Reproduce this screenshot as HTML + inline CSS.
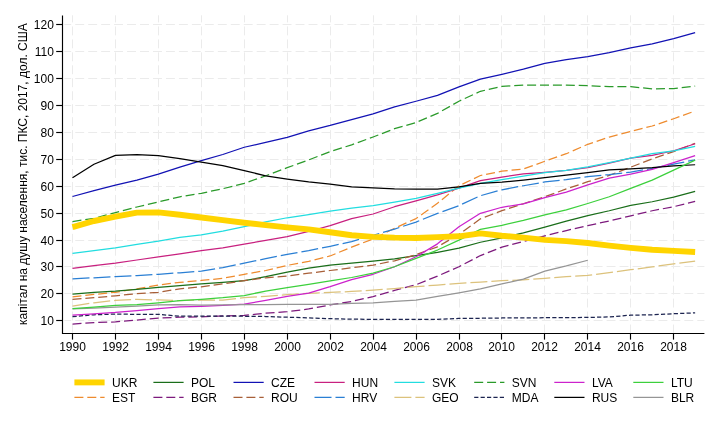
<!DOCTYPE html>
<html><head><meta charset="utf-8"><title>chart</title>
<style>html,body{margin:0;padding:0;background:#fff;width:720px;height:432px;overflow:hidden} svg{will-change:transform}</style>
</head><body>
<svg width="720" height="432" viewBox="0 0 720 432" style="display:block">
<rect width="720" height="432" fill="#fff"/>
<g stroke="#ebebeb" stroke-width="1" stroke-dasharray="8.9 4.06" stroke-dashoffset="2"><line x1="64.3" y1="320.50" x2="704.40" y2="320.50"/><line x1="64.3" y1="293.50" x2="704.40" y2="293.50"/><line x1="64.3" y1="266.50" x2="704.40" y2="266.50"/><line x1="64.3" y1="240.50" x2="704.40" y2="240.50"/><line x1="64.3" y1="213.50" x2="704.40" y2="213.50"/><line x1="64.3" y1="186.50" x2="704.40" y2="186.50"/><line x1="64.3" y1="159.50" x2="704.40" y2="159.50"/><line x1="64.3" y1="132.50" x2="704.40" y2="132.50"/><line x1="64.3" y1="105.50" x2="704.40" y2="105.50"/><line x1="64.3" y1="78.50" x2="704.40" y2="78.50"/><line x1="64.3" y1="51.50" x2="704.40" y2="51.50"/><line x1="64.3" y1="24.50" x2="704.40" y2="24.50"/></g>
<g stroke="#ebebeb" stroke-width="1" stroke-dasharray="8.9 4.06" stroke-dashoffset="1.8"><line x1="72.50" y1="15.30" x2="72.50" y2="333.00"/><line x1="115.50" y1="15.30" x2="115.50" y2="333.00"/><line x1="158.50" y1="15.30" x2="158.50" y2="333.00"/><line x1="201.50" y1="15.30" x2="201.50" y2="333.00"/><line x1="244.50" y1="15.30" x2="244.50" y2="333.00"/><line x1="287.50" y1="15.30" x2="287.50" y2="333.00"/><line x1="330.50" y1="15.30" x2="330.50" y2="333.00"/><line x1="373.50" y1="15.30" x2="373.50" y2="333.00"/><line x1="416.50" y1="15.30" x2="416.50" y2="333.00"/><line x1="459.50" y1="15.30" x2="459.50" y2="333.00"/><line x1="501.50" y1="15.30" x2="501.50" y2="333.00"/><line x1="544.50" y1="15.30" x2="544.50" y2="333.00"/><line x1="587.50" y1="15.30" x2="587.50" y2="333.00"/><line x1="630.50" y1="15.30" x2="630.50" y2="333.00"/><line x1="673.50" y1="15.30" x2="673.50" y2="333.00"/></g>
<polyline points="72.50,296.87 93.97,294.45 115.44,292.30 136.91,288.80 158.38,285.03 179.85,282.34 201.32,280.46 222.79,278.30 244.26,274.27 265.73,270.50 287.20,265.39 308.67,261.35 330.14,255.97 351.61,247.09 373.08,239.02 394.55,228.25 416.02,218.56 437.49,203.23 458.96,185.74 480.43,175.51 501.90,171.21 523.37,169.05 544.84,161.25 566.31,153.71 587.78,144.30 609.25,137.03 630.72,131.38 652.19,126.00 673.66,118.73 695.13,110.93" fill="none" stroke="#ee8b2e" stroke-width="1.25" stroke-linejoin="round" stroke-dasharray="9 3.9"/>
<polyline points="72.50,294.04 93.97,292.30 115.44,291.08 136.91,289.34 158.38,287.45 179.85,285.57 201.32,283.95 222.79,282.34 244.26,280.72 265.73,276.69 287.20,272.11 308.67,268.08 330.14,265.12 351.61,263.10 373.08,261.08 394.55,258.93 416.02,255.70 437.49,252.47 458.96,248.16 480.43,242.24 501.90,237.94 523.37,232.83 544.84,227.04 566.31,221.12 587.78,215.60 609.25,210.76 630.72,205.38 652.19,201.75 673.66,197.04 695.13,191.39" fill="none" stroke="#1a6e1a" stroke-width="1.25" stroke-linejoin="round"/>
<polyline points="72.50,324.16 93.97,322.54 115.44,321.90 136.91,320.01 158.38,318.13 179.85,317.19 201.32,316.78 222.79,315.98 244.26,315.44 265.73,313.15 287.20,311.67 308.67,308.98 330.14,304.94 351.61,301.44 373.08,296.60 394.55,290.41 416.02,284.76 437.49,276.15 458.96,266.73 480.43,255.56 501.90,247.09 523.37,241.44 544.84,235.79 566.31,230.54 587.78,225.56 609.25,220.99 630.72,215.87 652.19,210.76 673.66,206.72 695.13,201.34" fill="none" stroke="#7d1a7d" stroke-width="1.25" stroke-linejoin="round" stroke-dasharray="9 3.9"/>
<polyline points="72.50,196.50 93.97,190.58 115.44,185.20 136.91,180.09 158.38,174.17 179.85,167.17 201.32,160.71 222.79,154.52 244.26,147.26 265.73,142.41 287.20,137.30 308.67,130.84 330.14,125.46 351.61,119.54 373.08,113.89 394.55,106.89 416.02,101.24 437.49,95.32 458.96,86.85 480.43,79.04 501.90,74.33 523.37,69.22 544.84,63.30 566.31,59.53 587.78,56.57 609.25,52.54 630.72,47.96 652.19,43.79 673.66,38.54 695.13,32.62" fill="none" stroke="#1212b4" stroke-width="1.25" stroke-linejoin="round"/>
<polyline points="72.50,299.29 93.97,297.68 115.44,295.79 136.91,293.64 158.38,292.30 179.85,288.80 201.32,286.78 222.79,283.95 244.26,280.72 265.73,277.76 287.20,276.15 308.67,273.19 330.14,270.50 351.61,267.81 373.08,265.12 394.55,260.81 416.02,254.62 437.49,246.82 458.96,234.44 480.43,218.83 501.90,210.63 523.37,203.76 544.84,196.77 566.31,188.96 587.78,181.70 609.25,175.38 630.72,167.17 652.19,158.83 673.66,151.56 695.13,143.35" fill="none" stroke="#a85f38" stroke-width="1.25" stroke-linejoin="round" stroke-dasharray="9 3.9"/>
<polyline points="72.50,268.48 93.97,265.66 115.44,263.10 136.91,260.00 158.38,256.91 179.85,253.82 201.32,250.59 222.79,247.90 244.26,244.13 265.73,240.36 287.20,236.59 308.67,231.48 330.14,225.56 351.61,218.56 373.08,213.99 394.55,206.72 416.02,200.80 437.49,194.88 458.96,188.16 480.43,180.62 501.90,177.13 523.37,173.76 544.84,172.28 566.31,170.40 587.78,167.71 609.25,163.13 630.72,158.02 652.19,155.33 673.66,150.75 695.13,143.76" fill="none" stroke="#c8207f" stroke-width="1.25" stroke-linejoin="round"/>
<polyline points="72.50,278.84 93.97,277.76 115.44,276.69 136.91,275.61 158.38,274.27 179.85,272.79 201.32,271.04 222.79,267.54 244.26,263.23 265.73,258.66 287.20,254.35 308.67,250.59 330.14,246.28 351.61,241.71 373.08,235.25 394.55,229.06 416.02,222.06 437.49,213.45 458.96,205.65 480.43,195.69 501.90,189.77 523.37,185.74 544.84,181.97 566.31,179.55 587.78,176.59 609.25,174.57 630.72,172.01 652.19,168.38 673.66,164.21 695.13,159.77" fill="none" stroke="#2a7fd4" stroke-width="1.25" stroke-linejoin="round" stroke-dasharray="17 4"/>
<polyline points="72.50,253.28 93.97,250.59 115.44,247.76 136.91,244.40 158.38,241.17 179.85,237.40 201.32,234.98 222.79,231.21 244.26,226.64 265.73,221.79 287.20,217.76 308.67,214.53 330.14,211.03 351.61,208.07 373.08,205.65 394.55,202.15 416.02,198.38 437.49,193.27 458.96,188.16 480.43,183.31 501.90,179.55 523.37,176.18 544.84,172.55 566.31,170.40 587.78,166.90 609.25,162.59 630.72,158.02 652.19,153.71 673.66,150.89 695.13,146.45" fill="none" stroke="#22dde0" stroke-width="1.25" stroke-linejoin="round"/>
<polyline points="72.50,306.02 93.97,302.79 115.44,300.37 136.91,299.29 158.38,299.96 179.85,300.64 201.32,299.96 222.79,300.10 244.26,297.68 265.73,296.33 287.20,294.72 308.67,293.37 330.14,292.43 351.61,291.49 373.08,290.14 394.55,288.53 416.02,286.64 437.49,285.03 458.96,283.28 480.43,282.07 501.90,280.72 523.37,279.92 544.84,278.30 566.31,276.69 587.78,275.34 609.25,272.65 630.72,269.69 652.19,266.87 673.66,263.77 695.13,261.08" fill="none" stroke="#dcc27c" stroke-width="1.25" stroke-linejoin="round" stroke-dasharray="17 4"/>
<polyline points="72.50,221.52 93.97,218.30 115.44,212.64 136.91,206.99 158.38,201.88 179.85,196.77 201.32,193.27 222.79,188.70 244.26,183.31 265.73,175.78 287.20,167.71 308.67,159.90 330.14,151.56 351.61,144.83 373.08,137.03 394.55,128.69 416.02,122.50 437.49,113.35 458.96,101.24 480.43,91.29 501.90,86.44 523.37,85.10 544.84,85.10 566.31,85.10 587.78,85.63 609.25,86.71 630.72,86.71 652.19,88.86 673.66,88.59 695.13,86.17" fill="none" stroke="#2a9a2a" stroke-width="1.25" stroke-linejoin="round" stroke-dasharray="9 3.9"/>
<polyline points="72.50,316.65 93.97,314.76 115.44,314.09 136.91,314.36 158.38,314.36 179.85,316.24 201.32,316.24 222.79,316.24 244.26,316.24 265.73,316.51 287.20,317.19 308.67,317.86 330.14,318.67 351.61,319.20 373.08,319.29 394.55,319.29 416.02,319.29 437.49,319.29 458.96,318.40 480.43,318.26 501.90,317.99 523.37,317.86 544.84,317.72 566.31,317.59 587.78,317.46 609.25,316.92 630.72,315.17 652.19,314.76 673.66,313.69 695.13,312.88" fill="none" stroke="#1c2450" stroke-width="1.25" stroke-linejoin="round" stroke-dasharray="4.2 2.2"/>
<polyline points="72.50,315.17 93.97,313.82 115.44,312.48 136.91,310.59 158.38,308.71 179.85,306.83 201.32,306.29 222.79,305.48 244.26,304.14 265.73,300.37 287.20,296.33 308.67,293.10 330.14,286.64 351.61,279.65 373.08,274.27 394.55,266.73 416.02,256.78 437.49,243.86 458.96,226.77 480.43,213.32 501.90,207.26 523.37,203.90 544.84,197.71 566.31,192.06 587.78,184.93 609.25,178.20 630.72,174.17 652.19,169.32 673.66,162.59 695.13,155.60" fill="none" stroke="#cc22cc" stroke-width="1.25" stroke-linejoin="round"/>
<polyline points="72.50,177.66 93.97,164.21 115.44,155.33 136.91,154.52 158.38,155.60 179.85,158.56 201.32,162.06 222.79,165.55 244.26,170.67 265.73,175.78 287.20,179.01 308.67,181.97 330.14,184.12 351.61,186.81 373.08,187.89 394.55,188.96 416.02,189.23 437.49,189.23 458.96,186.81 480.43,183.31 501.90,182.24 523.37,180.09 544.84,177.66 566.31,175.24 587.78,172.55 609.25,169.86 630.72,168.78 652.19,167.57 673.66,165.82 695.13,164.75" fill="none" stroke="#000000" stroke-width="1.25" stroke-linejoin="round"/>
<polyline points="72.50,308.98 93.97,308.17 115.44,307.10 136.91,306.02 158.38,304.94 179.85,304.67 201.32,305.08 222.79,304.81 244.26,304.67 265.73,304.54 287.20,304.40 308.67,304.40 330.14,304.27 351.61,303.33 373.08,302.79 394.55,301.44 416.02,300.10 437.49,296.47 458.96,292.83 480.43,288.80 501.90,283.95 523.37,279.11 544.84,271.04 566.31,265.92 587.78,260.27" fill="none" stroke="#959595" stroke-width="1.25" stroke-linejoin="round"/>
<polyline points="72.50,308.71 93.97,307.10 115.44,305.48 136.91,304.67 158.38,302.79 179.85,300.64 201.32,299.29 222.79,297.68 244.26,295.52 265.73,291.08 287.20,287.72 308.67,284.49 330.14,280.99 351.61,277.50 373.08,273.19 394.55,266.73 416.02,258.39 437.49,250.05 458.96,240.09 480.43,229.33 501.90,225.29 523.37,220.45 544.84,214.80 566.31,209.95 587.78,203.50 609.25,196.77 630.72,188.43 652.19,180.09 673.66,170.13 695.13,160.17" fill="none" stroke="#3cd03c" stroke-width="1.25" stroke-linejoin="round"/>
<polyline points="72.50,227.18 93.97,220.99 115.44,216.68 136.91,212.64 158.38,212.38 179.85,214.80 201.32,217.49 222.79,220.18 244.26,222.74 265.73,225.16 287.20,227.44 308.67,229.33 330.14,232.29 351.61,235.25 373.08,236.86 394.55,237.67 416.02,237.94 437.49,237.13 458.96,236.32 480.43,233.36 501.90,235.79 523.37,237.67 544.84,239.82 566.31,241.17 587.78,243.05 609.25,245.61 630.72,247.90 652.19,249.78 673.66,250.86 695.13,251.93" fill="none" stroke="#ffd400" stroke-width="5.9" stroke-linejoin="round"/>
<g stroke="#000" stroke-width="1.15"><line x1="62.5" y1="15.5" x2="62.5" y2="334"/><line x1="62" y1="333.5" x2="704.4" y2="333.5"/><line x1="56.2" y1="320.50" x2="62.5" y2="320.50"/><line x1="56.2" y1="293.50" x2="62.5" y2="293.50"/><line x1="56.2" y1="266.50" x2="62.5" y2="266.50"/><line x1="56.2" y1="240.50" x2="62.5" y2="240.50"/><line x1="56.2" y1="213.50" x2="62.5" y2="213.50"/><line x1="56.2" y1="186.50" x2="62.5" y2="186.50"/><line x1="56.2" y1="159.50" x2="62.5" y2="159.50"/><line x1="56.2" y1="132.50" x2="62.5" y2="132.50"/><line x1="56.2" y1="105.50" x2="62.5" y2="105.50"/><line x1="56.2" y1="78.50" x2="62.5" y2="78.50"/><line x1="56.2" y1="51.50" x2="62.5" y2="51.50"/><line x1="56.2" y1="24.50" x2="62.5" y2="24.50"/><line x1="72.50" y1="333.5" x2="72.50" y2="339.6"/><line x1="115.50" y1="333.5" x2="115.50" y2="339.6"/><line x1="158.50" y1="333.5" x2="158.50" y2="339.6"/><line x1="201.50" y1="333.5" x2="201.50" y2="339.6"/><line x1="244.50" y1="333.5" x2="244.50" y2="339.6"/><line x1="287.50" y1="333.5" x2="287.50" y2="339.6"/><line x1="330.50" y1="333.5" x2="330.50" y2="339.6"/><line x1="373.50" y1="333.5" x2="373.50" y2="339.6"/><line x1="416.50" y1="333.5" x2="416.50" y2="339.6"/><line x1="459.50" y1="333.5" x2="459.50" y2="339.6"/><line x1="501.50" y1="333.5" x2="501.50" y2="339.6"/><line x1="544.50" y1="333.5" x2="544.50" y2="339.6"/><line x1="587.50" y1="333.5" x2="587.50" y2="339.6"/><line x1="630.50" y1="333.5" x2="630.50" y2="339.6"/><line x1="673.50" y1="333.5" x2="673.50" y2="339.6"/></g>
<g style="font-family:'Liberation Sans',Arial,sans-serif;font-size:12px" fill="#000"><text x="53.9" y="324.80" text-anchor="end">10</text><text x="53.9" y="297.80" text-anchor="end">20</text><text x="53.9" y="270.80" text-anchor="end">30</text><text x="53.9" y="244.80" text-anchor="end">40</text><text x="53.9" y="217.80" text-anchor="end">50</text><text x="53.9" y="190.80" text-anchor="end">60</text><text x="53.9" y="163.80" text-anchor="end">70</text><text x="53.9" y="136.80" text-anchor="end">80</text><text x="53.9" y="109.80" text-anchor="end">90</text><text x="53.9" y="82.80" text-anchor="end">100</text><text x="53.9" y="55.80" text-anchor="end">110</text><text x="53.9" y="28.80" text-anchor="end">120</text><text x="72.50" y="350.6" text-anchor="middle">1990</text><text x="115.50" y="350.6" text-anchor="middle">1992</text><text x="158.50" y="350.6" text-anchor="middle">1994</text><text x="201.50" y="350.6" text-anchor="middle">1996</text><text x="244.50" y="350.6" text-anchor="middle">1998</text><text x="287.50" y="350.6" text-anchor="middle">2000</text><text x="330.50" y="350.6" text-anchor="middle">2002</text><text x="373.50" y="350.6" text-anchor="middle">2004</text><text x="416.50" y="350.6" text-anchor="middle">2006</text><text x="459.50" y="350.6" text-anchor="middle">2008</text><text x="501.50" y="350.6" text-anchor="middle">2010</text><text x="544.50" y="350.6" text-anchor="middle">2012</text><text x="587.50" y="350.6" text-anchor="middle">2014</text><text x="630.50" y="350.6" text-anchor="middle">2016</text><text x="673.50" y="350.6" text-anchor="middle">2018</text></g>
<text transform="translate(26.6,174.15) rotate(-90)" text-anchor="middle" style="font-family:'Liberation Sans',Arial,sans-serif;font-size:12px" fill="#000">капітал на душу населення, тис. ПКС, 2017, дол. США</text>
<g><line x1="74.40" y1="382.40" x2="104.60" y2="382.40" stroke="#ffd400" stroke-width="5.9"/><text x="112.00" y="387.00" style="font-family:'Liberation Sans',Arial,sans-serif;font-size:12px" fill="#000">UKR</text><line x1="153.40" y1="382.40" x2="183.60" y2="382.40" stroke="#1a6e1a" stroke-width="1.25"/><text x="191.00" y="387.00" style="font-family:'Liberation Sans',Arial,sans-serif;font-size:12px" fill="#000">POL</text><line x1="233.50" y1="382.40" x2="263.70" y2="382.40" stroke="#1212b4" stroke-width="1.25"/><text x="271.10" y="387.00" style="font-family:'Liberation Sans',Arial,sans-serif;font-size:12px" fill="#000">CZE</text><line x1="314.50" y1="382.40" x2="344.70" y2="382.40" stroke="#c8207f" stroke-width="1.25"/><text x="352.10" y="387.00" style="font-family:'Liberation Sans',Arial,sans-serif;font-size:12px" fill="#000">HUN</text><line x1="394.40" y1="382.40" x2="424.60" y2="382.40" stroke="#22dde0" stroke-width="1.25"/><text x="432.00" y="387.00" style="font-family:'Liberation Sans',Arial,sans-serif;font-size:12px" fill="#000">SVK</text><line x1="474.20" y1="382.40" x2="504.40" y2="382.40" stroke="#2a9a2a" stroke-width="1.25" stroke-dasharray="9 3.9"/><text x="511.80" y="387.00" style="font-family:'Liberation Sans',Arial,sans-serif;font-size:12px" fill="#000">SVN</text><line x1="554.30" y1="382.40" x2="584.50" y2="382.40" stroke="#cc22cc" stroke-width="1.25"/><text x="591.90" y="387.00" style="font-family:'Liberation Sans',Arial,sans-serif;font-size:12px" fill="#000">LVA</text><line x1="633.30" y1="382.40" x2="663.50" y2="382.40" stroke="#3cd03c" stroke-width="1.25"/><text x="670.90" y="387.00" style="font-family:'Liberation Sans',Arial,sans-serif;font-size:12px" fill="#000">LTU</text><line x1="74.40" y1="397.40" x2="104.60" y2="397.40" stroke="#ee8b2e" stroke-width="1.25" stroke-dasharray="9 3.9"/><text x="112.00" y="402.00" style="font-family:'Liberation Sans',Arial,sans-serif;font-size:12px" fill="#000">EST</text><line x1="153.40" y1="397.40" x2="183.60" y2="397.40" stroke="#7d1a7d" stroke-width="1.25" stroke-dasharray="9 3.9"/><text x="191.00" y="402.00" style="font-family:'Liberation Sans',Arial,sans-serif;font-size:12px" fill="#000">BGR</text><line x1="233.50" y1="397.40" x2="263.70" y2="397.40" stroke="#a85f38" stroke-width="1.25" stroke-dasharray="9 3.9"/><text x="271.10" y="402.00" style="font-family:'Liberation Sans',Arial,sans-serif;font-size:12px" fill="#000">ROU</text><line x1="314.50" y1="397.40" x2="344.70" y2="397.40" stroke="#2a7fd4" stroke-width="1.25" stroke-dasharray="17 4"/><text x="352.10" y="402.00" style="font-family:'Liberation Sans',Arial,sans-serif;font-size:12px" fill="#000">HRV</text><line x1="394.40" y1="397.40" x2="424.60" y2="397.40" stroke="#dcc27c" stroke-width="1.25" stroke-dasharray="17 4"/><text x="432.00" y="402.00" style="font-family:'Liberation Sans',Arial,sans-serif;font-size:12px" fill="#000">GEO</text><line x1="474.20" y1="397.40" x2="504.40" y2="397.40" stroke="#1c2450" stroke-width="1.25" stroke-dasharray="4.2 2.2"/><text x="511.80" y="402.00" style="font-family:'Liberation Sans',Arial,sans-serif;font-size:12px" fill="#000">MDA</text><line x1="554.30" y1="397.40" x2="584.50" y2="397.40" stroke="#000000" stroke-width="1.25"/><text x="591.90" y="402.00" style="font-family:'Liberation Sans',Arial,sans-serif;font-size:12px" fill="#000">RUS</text><line x1="633.30" y1="397.40" x2="663.50" y2="397.40" stroke="#959595" stroke-width="1.25"/><text x="670.90" y="402.00" style="font-family:'Liberation Sans',Arial,sans-serif;font-size:12px" fill="#000">BLR</text></g>
</svg>
</body></html>
